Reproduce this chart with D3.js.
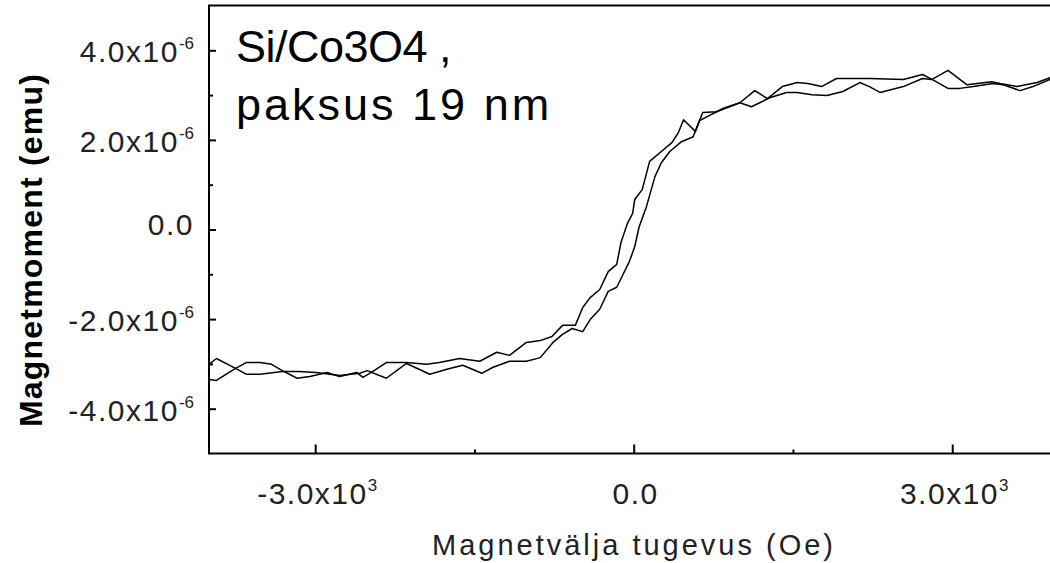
<!DOCTYPE html>
<html><head><meta charset="utf-8">
<script src="https://cdn.jsdelivr.net/npm/d3@7"></script>
<style>
body{margin:0;background:#fff;overflow:hidden;}
svg{display:block;font-family:"Liberation Sans",Arial,sans-serif;}
</style>
</head><body>
<svg id="chart" width="1050" height="563"></svg>
<script>
// Descending branch (field in Oe, moment in 1e-6 emu)
const fieldDown = [-4000,-3930,-3750,-3650,-3520,-3410,-3310,-3170,-3050,-2890,-2770,-2610,-2550,-2460,-2330,-2140,-1950,-1830,-1640,-1450,-1290,-1170,-1010,-880,-770,-670,-550,-480,-410,-320,-240,-160,-120,-60,-10,10,80,150,260,360,420,470,580,650,780,1000,1140,1260,1400,1540,1640,1770,1910,2220,2540,2720,2810,2960,3070,3200,3380,3480,3640,3760,3920,4000];
const momentDown = [-3.01,-2.88,-3.10,-2.97,-2.97,-3.01,-3.15,-3.32,-3.28,-3.19,-3.28,-3.19,-3.30,-3.17,-2.97,-2.97,-3.01,-2.97,-2.88,-2.94,-2.74,-2.81,-2.52,-2.48,-2.39,-2.14,-2.14,-1.74,-1.52,-1.34,-0.94,-0.78,-0.29,0.13,0.36,0.67,0.89,1.52,1.74,1.94,2.16,2.45,2.19,2.61,2.63,2.83,3.10,2.92,3.19,3.28,3.26,3.19,3.37,3.37,3.35,3.46,3.35,3.15,3.15,3.19,3.26,3.23,3.10,3.19,3.35,3.45];
// Ascending branch
const fieldUp = [-4000,-3930,-3750,-3650,-3520,-3310,-3150,-2990,-2770,-2580,-2510,-2330,-2140,-1920,-1760,-1610,-1430,-1330,-1170,-1010,-880,-760,-670,-580,-480,-410,-320,-240,-160,-110,-40,10,50,120,200,260,340,450,560,620,840,1000,1110,1280,1440,1540,1680,1820,1970,2130,2220,2320,2540,2720,2810,2960,3140,3370,3450,3610,3800,3920,4000];
const momentUp = [-3.35,-3.37,-3.10,-3.23,-3.23,-3.17,-3.17,-3.19,-3.26,-3.21,-3.15,-3.32,-2.99,-3.23,-3.12,-3.03,-3.21,-3.08,-2.94,-2.94,-2.86,-2.52,-2.34,-2.21,-2.28,-2.01,-1.78,-1.38,-1.29,-1.05,-0.71,-0.38,0.05,0.51,1.18,1.49,1.74,1.96,2.07,2.43,2.70,2.83,2.74,2.94,3.06,3.06,3.01,2.99,3.08,3.28,3.19,3.06,3.19,3.37,3.35,3.55,3.23,3.30,3.26,3.19,3.28,3.39,3.45];

const xTickValues = [-3000, 0, 3000];
const xTickMain = ["-3.0x10", "0.0", "3.0x10"];
const xTickSup = ["3", "", "3"];
const xMinorTicks = [-1500, 1500];
const yTickValues = [4, 2, 0, -2, -4];
const yTickMain = ["4.0x10", "2.0x10", "0.0", "-2.0x10", "-4.0x10"];
const yTickSup = ["-6", "-6", "", "-6", "-6"];
const yMinorTicks = [3, 1, -1, -3];
const titleLines = ["Si/Co3O4 ,", "paksus 19 nm"];
const xTitle = "Magnetvälja tugevus (Oe)";
const yTitle = "Magnetmoment (emu)";

const svg = d3.select("#chart");
const L = 209, R = 1058.4, T = 5.5, B = 453.5;
const x = d3.scaleLinear().domain([-4000, 4000]).range([L, R]);
const y = d3.scaleLinear().domain([-5, 5]).range([B, T]);

// curves
const line = d3.line().x(d => x(d[0])).y(d => y(d[1]));
const down = fieldDown.map((f, i) => [f, momentDown[i]]);
const up = fieldUp.map((f, i) => [f, momentUp[i]]);
[down, up].forEach(data => {
  svg.append("path").datum(data).attr("d", line)
    .attr("fill", "none").attr("stroke", "#000").attr("stroke-width", 1.5)
    .attr("stroke-linejoin", "round");
});

// frame (right side is outside window)
svg.append("path")
  .attr("d", `M${R},${T}H${L}V${B}H${R}`)
  .attr("fill", "none").attr("stroke", "#000").attr("stroke-width", 2);

// axes
const xAxis = svg.append("g").attr("transform", `translate(0,${B})`)
  .call(d3.axisBottom(x).tickValues(xTickValues).tickSizeInner(-9).tickSizeOuter(0).tickPadding(0).tickFormat(""));
const xMinor = svg.append("g").attr("transform", `translate(0,${B})`)
  .call(d3.axisBottom(x).tickValues(xMinorTicks).tickSizeInner(-4).tickSizeOuter(0).tickFormat(""));
const yAxis = svg.append("g").attr("transform", `translate(${L},0)`)
  .call(d3.axisLeft(y).tickValues(yTickValues).tickSizeInner(-7).tickSizeOuter(0).tickFormat(""));
const yMinor = svg.append("g").attr("transform", `translate(${L},0)`)
  .call(d3.axisLeft(y).tickValues(yMinorTicks).tickSizeInner(-4).tickSizeOuter(0).tickFormat(""));
[xAxis, xMinor, yAxis, yMinor].forEach(g => {
  g.select(".domain").remove();
  g.selectAll(".tick line").attr("stroke", "#000").attr("stroke-width", 2);
  g.selectAll(".tick text").remove();
});

// tick labels
function label(g, main, sup, xx, yy, anchor) {
  const t = g.append("text").attr("x", xx).attr("y", yy).attr("text-anchor", anchor)
    .attr("fill", "#222");
  t.append("tspan").text(main).attr("font-size", 30).attr("letter-spacing", "1.5px");
  if (sup) t.append("tspan").text(sup).attr("font-size", 17).attr("dy", -13);
}
yTickValues.forEach((v, i) => {
  const base = yTickSup[i] ? y(v) + 12 : y(v) + 5;
  label(svg, yTickMain[i], yTickSup[i], 194, base, "end");
});
xTickValues.forEach((v, i) => {
  label(svg, xTickMain[i], xTickSup[i], x(v) + 2, 504, "middle");
});

// axis titles
svg.append("text").attr("x", 634).attr("y", 555).attr("text-anchor", "middle")
  .attr("font-size", 29).attr("letter-spacing", "3px").attr("fill", "#222").text(xTitle);
svg.append("text").attr("transform", "translate(42,250) rotate(-90)").attr("text-anchor", "middle")
  .attr("font-size", 32).attr("font-weight", "bold").attr("letter-spacing", "1.2px").attr("fill", "#000").text(yTitle);

// annotation
const titleSpacing = ["-0.5px", "3px"];
titleLines.forEach((s, i) => {
  svg.append("text").attr("x", 236).attr("y", 62 + i * 58)
    .attr("font-size", 45).attr("letter-spacing", titleSpacing[i]).attr("fill", "#000").text(s);
});
</script>
</body></html>
